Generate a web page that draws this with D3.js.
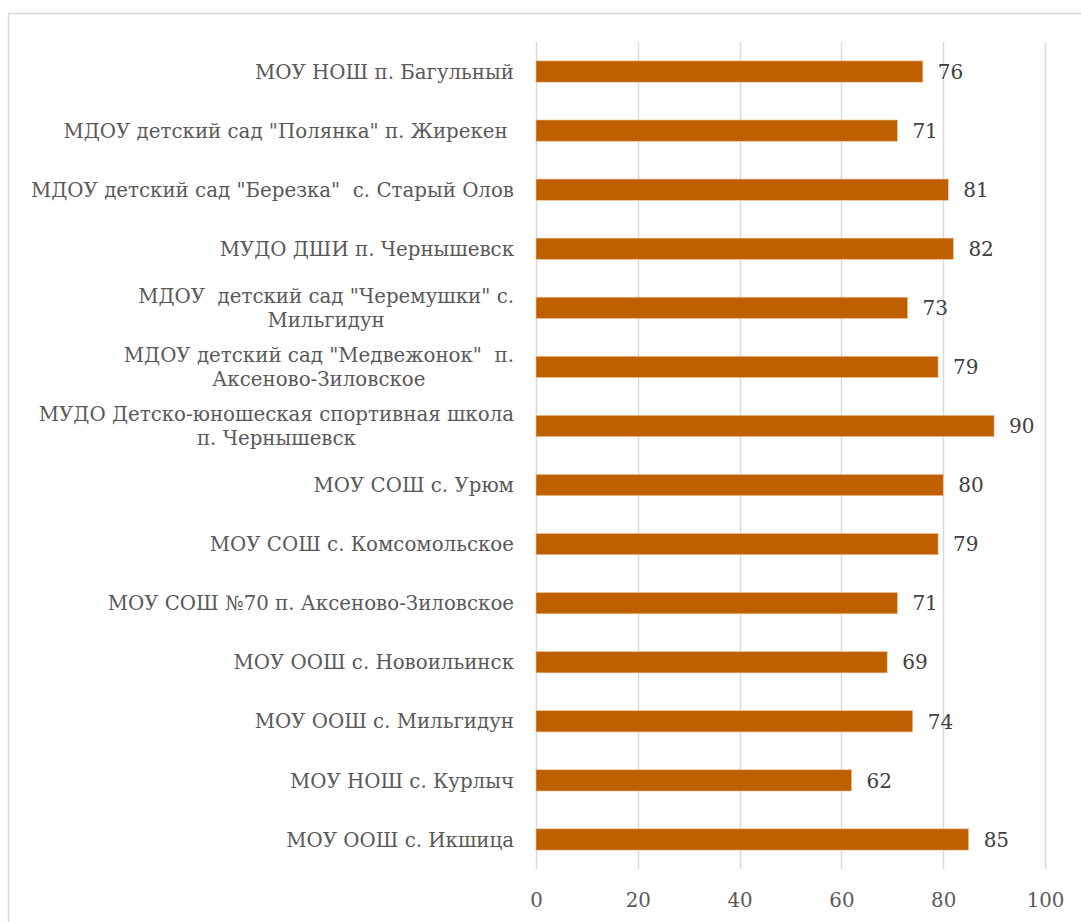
<!DOCTYPE html>
<html>
<head>
<meta charset="utf-8">
<script src="https://cdn.jsdelivr.net/npm/d3@7/dist/d3.min.js"></script>
<style>
  body { margin: 0; background: #fff; }
  svg text { font-family: "DejaVu Serif", "Liberation Serif", serif; white-space: pre; }
</style>
</head>
<body>
<script>
// categories top to bottom, "\n" marks where the label wraps
var categories = [
  "МОУ НОШ п. Багульный",
  "МДОУ детский сад \"Полянка\" п. Жирекен ",
  "МДОУ детский сад \"Березка\"  с. Старый Олов",
  "МУДО ДШИ п. Чернышевск",
  "МДОУ  детский сад \"Черемушки\" с.\nМильгидун",
  "МДОУ детский сад \"Медвежонок\"  п.\nАксеново-Зиловское",
  "МУДО Детско-юношеская спортивная школа\nп. Чернышевск",
  "МОУ СОШ с. Урюм",
  "МОУ СОШ с. Комсомольское",
  "МОУ СОШ №70 п. Аксеново-Зиловское",
  "МОУ ООШ с. Новоильинск",
  "МОУ ООШ с. Мильгидун",
  "МОУ НОШ с. Курлыч",
  "МОУ ООШ с. Икшица"
]
var values = [76, 71, 81, 82, 73, 79, 90, 80, 79, 71, 69, 74, 62, 85]
var tickValues = [0, 20, 40, 60, 80, 100]

var width = 1081
var height = 922
var plotLeft = 536, plotRight = 1045, plotTop = 42, plotBottom = 869
var labelRight = 514
var fontSize = 19.8

var svg = d3.select("body").append("svg")
  .attr("width", width)
  .attr("height", height)

// chart area border (runs off the right and bottom edge)
svg.append("path")
  .attr("d", "M8.5," + (height + 5) + "V13.5H" + (width + 5))
  .attr("fill", "none")
  .attr("stroke", "#d9d9d9")
  .attr("stroke-width", 1.5)

var x = d3.scaleLinear().domain([0, 100]).range([plotLeft, plotRight])
var y = d3.scaleBand().domain(d3.range(categories.length)).range([plotTop, plotBottom]).paddingInner(0.64).paddingOuter(0.32)

// vertical gridlines
svg.append("g").selectAll("line")
  .data(tickValues)
  .enter().append("line")
  .attr("x1", d => Math.round(x(d)) + 0.5)
  .attr("x2", d => Math.round(x(d)) + 0.5)
  .attr("y1", plotTop)
  .attr("y2", plotBottom)
  .attr("stroke", "#d9d9d9")
  .attr("stroke-width", 1.5)

// tick labels along the bottom
var xAxis = svg.append("g")
  .attr("transform", "translate(0," + plotBottom + ")")
  .call(d3.axisBottom(x).tickValues(tickValues).tickSize(0).tickPadding(24))
xAxis.select(".domain").remove()
xAxis.selectAll("text")
  .attr("font-size", fontSize)
  .attr("font-family", null)
  .attr("fill", "#595959")

// bars
svg.append("g").selectAll("rect")
  .data(values)
  .enter().append("rect")
  .attr("x", x(0))
  .attr("y", (d, i) => y(i))
  .attr("width", d => x(d) - x(0))
  .attr("height", y.bandwidth())
  .attr("fill", "#bf6000")
  .attr("stroke", "#f0c49a")
  .attr("stroke-width", 0.6)

// value labels
svg.append("g").selectAll("text")
  .data(values)
  .enter().append("text")
  .attr("x", d => x(d) + 15)
  .attr("y", (d, i) => y(i) + y.bandwidth() / 2)
  .attr("dy", "0.36em")
  .attr("font-size", 20)
  .attr("fill", "#404040")
  .text(d => d)

// category labels, wrapped lines centred in a right-aligned block
var lineHeight = 24
var labels = svg.append("g").selectAll("text")
  .data(categories)
  .enter().append("text")
  .attr("font-size", fontSize)
  .attr("fill", "#595959")
  .attr("text-anchor", "middle")

labels.each(function (d, i) {
  var lines = d.split("\n")
  var t = d3.select(this)
  var cy = y(i) + y.bandwidth() / 2
  var spans = lines.map(function (s, k) {
    return t.append("tspan")
      .attr("dy", k === 0 ? (0.36 * fontSize - (lines.length - 1) * lineHeight / 2) + "px" : lineHeight + "px")
      .text(s)
  })
  var w = d3.max(spans, s => s.node().getComputedTextLength())
  var cx = labelRight - w / 2
  spans.forEach(s => s.attr("x", cx))
  t.attr("y", cy)
})
</script>
</body>
</html>
